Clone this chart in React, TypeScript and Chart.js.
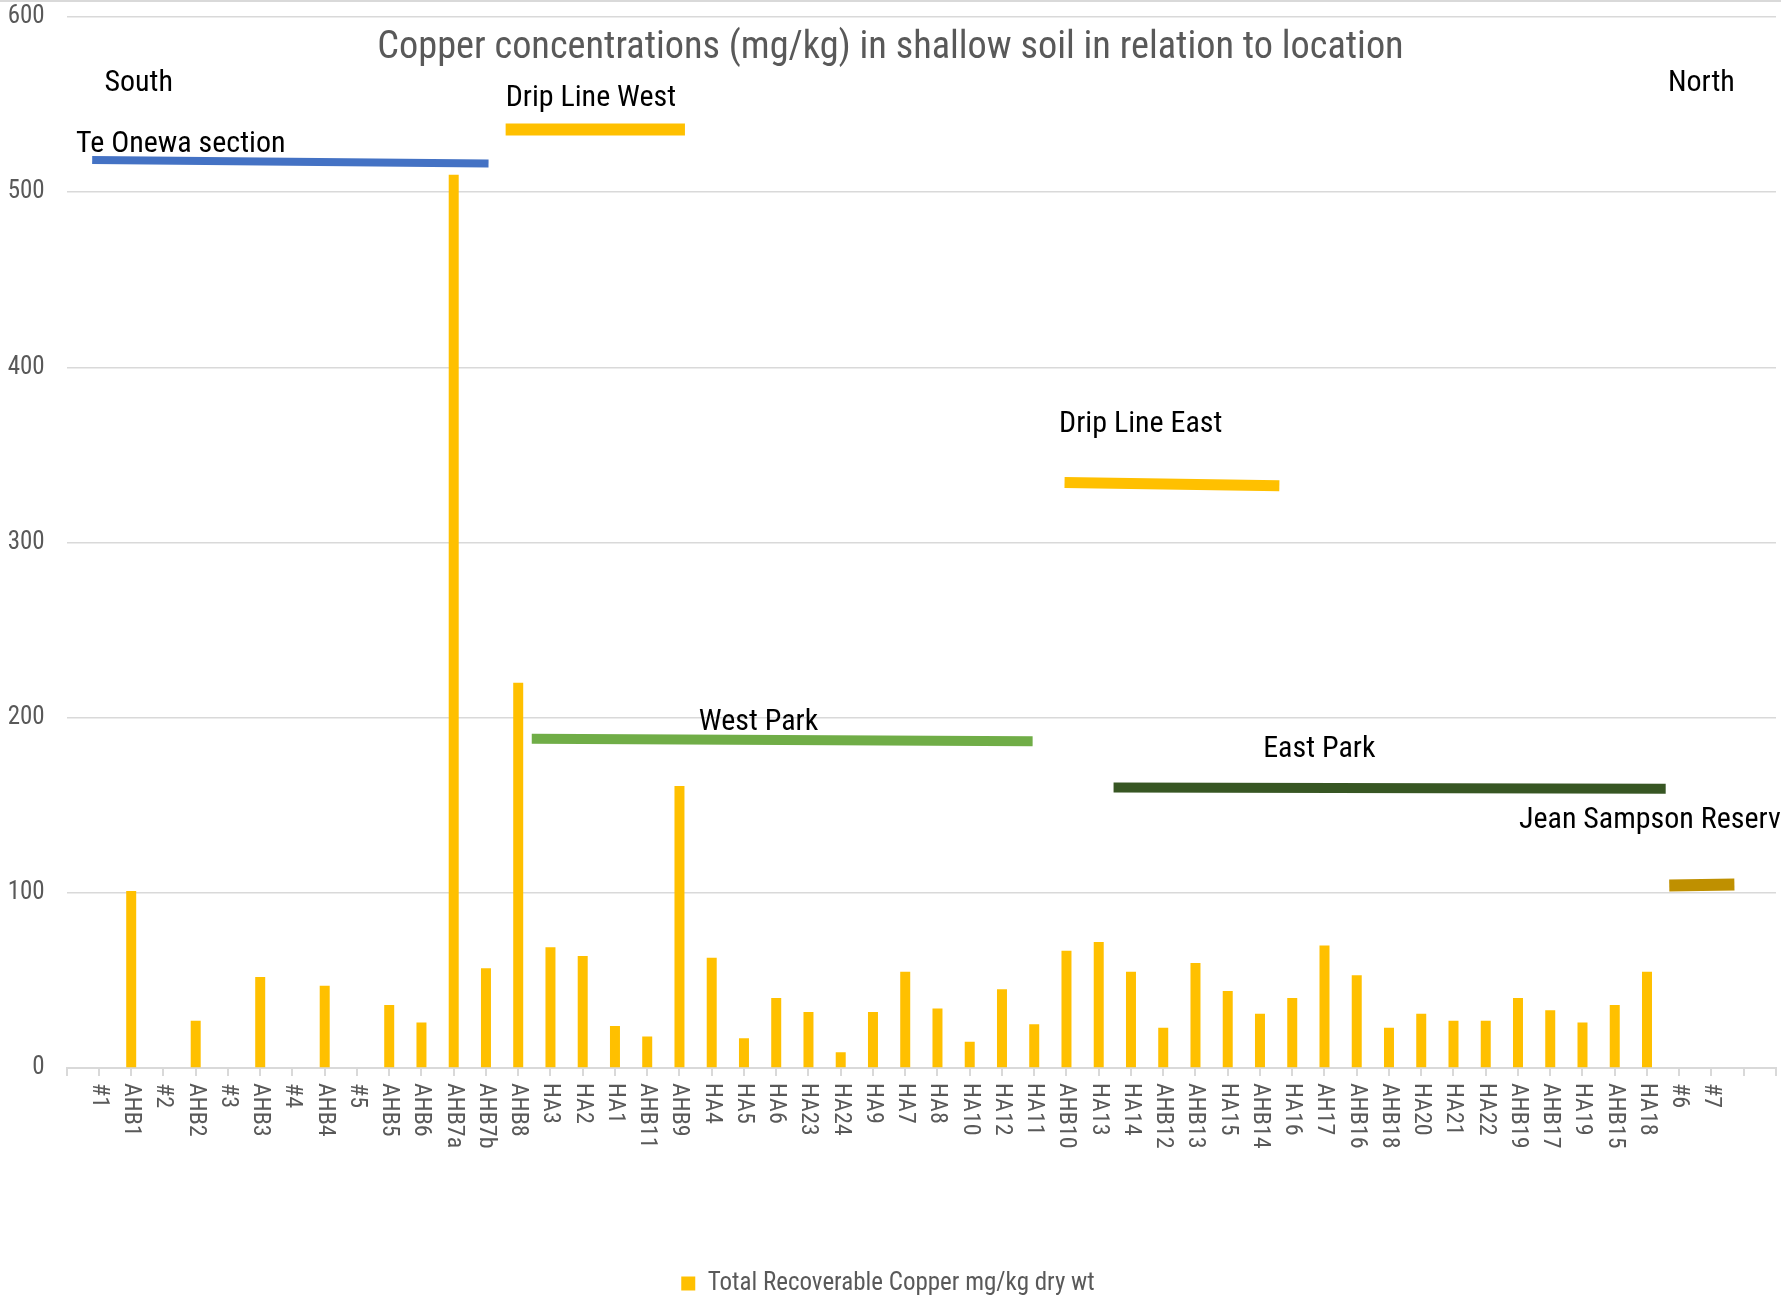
import React, { useEffect, useRef } from 'react';
import { Chart, registerables } from 'chart.js';

Chart.register(...registerables);

const FONT = "'Roboto Condensed', 'DejaVu Sans Condensed', 'Roboto', sans-serif";

const chartTitle = 'Copper concentrations (mg/kg) in shallow soil in relation to location';
const seriesName = 'Total Recoverable Copper mg/kg dry wt';

const categories = ['', '#1', 'AHB1', '#2', 'AHB2', '#3', 'AHB3', '#4', 'AHB4', '#5', 'AHB5', 'AHB6', 'AHB7a', 'AHB7b', 'AHB8', 'HA3', 'HA2', 'HA1', 'AHB11', 'AHB9', 'HA4', 'HA5', 'HA6', 'HA23', 'HA24', 'HA9', 'HA7', 'HA8', 'HA10', 'HA12', 'HA11', 'AHB10', 'HA13', 'HA14', 'AHB12', 'AHB13', 'HA15', 'AHB14', 'HA16', 'AH17', 'AHB16', 'AHB18', 'HA20', 'HA21', 'HA22', 'AHB19', 'AHB17', 'HA19', 'AHB15', 'HA18', '#6', '#7', '', ''];

const copper = [null, null, 101, null, 27, null, 52, null, 47, null, 36, 26, 510, 57, 220, 69, 64, 24, 18, 161, 63, 17, 40, 32, 9, 32, 55, 34, 15, 45, 25, 67, 72, 55, 23, 60, 44, 31, 40, 70, 53, 23, 31, 27, 27, 40, 33, 26, 36, 55, null, null, null, null];

const yTicks = [0, 100, 200, 300, 400, 500, 600];

// zone marker lines: start/end in (category index, mg/kg)
const zoneNames = ['Te Onewa section', 'Drip Line West', 'Drip Line East', 'West Park', 'East Park', 'Jean Sampson Reserve'];
const zoneStart = [[0.79, 518.3], [13.61, 535.8], [30.94, 334.3], [14.42, 187.9], [32.46, 160.1], [49.69, 104.2]];
const zoneEnd = [[13.08, 516.4], [19.17, 535.8], [37.6, 332.4], [29.95, 186.6], [49.58, 159.4], [51.71, 104.8]];
const zoneLabelAt = [[0.29, 527.3], [13.61, 553.3], [30.77, 367.3], [19.6, 197], [37.1, 182.1], [45.03, 141.2]];
const zoneColors = ['#4472c4', '#ffc000', '#ffc000', '#70ad47', '#375623', '#bf9000'];
const zoneWidths = [8, 12, 11, 10, 10, 12];

const directionNames = ['South', 'North'];
const directionAt = [[1.17, 562.3], [49.65, 562.3]];

const overlayPlugin = {
  id: 'overlay',
  beforeDraw(chart: any) {
    const { ctx } = chart;
    ctx.save();
    ctx.fillStyle = '#d9d9d9';
    ctx.fillRect(0, 0, chart.width, 2);
    ctx.restore();
  },
  afterDraw(chart: any) {
    const { ctx, scales } = chart;
    const xs = scales.x;
    const ys = scales.y;
    ctx.save();
    // category labels, rotated clockwise
    ctx.fillStyle = '#595959';
    ctx.font = `24px ${FONT}`;
    ctx.textAlign = 'left';
    ctx.textBaseline = 'middle';
    categories.forEach((lab, i) => {
      if (!lab) return;
      const px = xs.getPixelForValue(i);
      ctx.save();
      ctx.translate(px, xs.top + 15);
      ctx.rotate(Math.PI / 2);
      ctx.fillText(lab, 0, 0);
      ctx.restore();
    });
    // title
    ctx.font = `38.3px ${FONT}`;
    ctx.textAlign = 'center';
    ctx.fillStyle = '#595959';
    ctx.fillText(chartTitle, chart.width / 2, 48);
    // annotations
    ctx.font = `30px ${FONT}`;
    ctx.textAlign = 'left';
    ctx.fillStyle = '#000000';
    zoneNames.forEach((t, i) => {
      ctx.fillText(t, xs.getPixelForValue(zoneLabelAt[i][0]), ys.getPixelForValue(zoneLabelAt[i][1]));
    });
    directionNames.forEach((t, i) => {
      ctx.fillText(t, xs.getPixelForValue(directionAt[i][0]), ys.getPixelForValue(directionAt[i][1]));
    });
    ctx.restore();
  },
};

export default function App() {
  const ref = useRef<HTMLCanvasElement>(null);
  useEffect(() => {
    if (!ref.current) return;
    Chart.defaults.font.family = FONT;
    const lineSets = zoneNames.map((name, i) => ({
      type: 'line' as const,
      label: name,
      xAxisID: 'xl',
      yAxisID: 'y',
      data: [
        { x: zoneStart[i][0], y: zoneStart[i][1] },
        { x: zoneEnd[i][0], y: zoneEnd[i][1] },
      ],
      borderColor: zoneColors[i],
      backgroundColor: zoneColors[i],
      borderWidth: zoneWidths[i],
      borderCapStyle: 'butt' as const,
      pointRadius: 0,
      fill: false,
      tension: 0,
    }));
    const chart = new Chart(ref.current, {
      type: 'bar',
      data: {
        labels: categories,
        datasets: [
          {
            type: 'bar',
            label: seriesName,
            data: copper as any,
            backgroundColor: '#ffc000',
            borderWidth: 0,
            grouped: false,
            barPercentage: 0.31,
            categoryPercentage: 1,
            xAxisID: 'x',
            yAxisID: 'y',
          } as any,
          ...lineSets,
        ],
      },
      options: {
        responsive: false,
        animation: false,
        events: [],
        layout: { padding: { left: 0, right: 5, top: 16, bottom: -7 } },
        plugins: {
          title: { display: false },
          tooltip: { enabled: false },
          legend: {
            display: true,
            position: 'bottom',
            labels: {
              filter: (item: any) => item.datasetIndex === 0,
              boxWidth: 14,
              boxHeight: 14,
              padding: 10,
              color: '#595959',
              font: { size: 25, family: FONT },
            },
          },
        },
        scales: {
          x: {
            type: 'category',
            offset: false,
            grid: {
              offset: false,
              drawOnChartArea: false,
              drawTicks: true,
              tickLength: 8,
              color: '#d9d9d9',
              lineWidth: 2,
            },
            border: { display: true, color: '#d9d9d9', width: 2 },
            ticks: { display: false, autoSkip: false },
            afterFit: (s: any) => {
              s.height = 193;
            },
          },
          xl: {
            type: 'linear',
            display: true,
            offset: false,
            min: 0,
            max: categories.length - 1,
            position: 'bottom',
            grid: { display: false, drawTicks: false, offset: false },
            border: { display: false },
            ticks: { display: false },
            afterFit: (s: any) => {
              s.height = 0;
            },
          },
          y: {
            type: 'linear',
            min: 0,
            max: 600,
            afterBuildTicks: (s: any) => {
              s.ticks = yTicks.map((v) => ({ value: v }));
            },
            grid: {
              color: '#d9d9d9',
              lineWidth: 1.5,
              drawTicks: true,
              tickLength: 20,
              tickColor: 'rgba(0,0,0,0)',
            },
            border: { display: false },
            ticks: {
              padding: 2,
              color: '#595959',
              font: { size: 25, family: FONT },
            },
            afterFit: (s: any) => {
              s.width = 66.7;
            },
          },
        },
      },
      plugins: [overlayPlugin],
    });
    return () => chart.destroy();
  }, []);
  return (
    <div style={{ position: 'absolute', left: 0, top: 0, width: 1781, height: 1299, background: '#fff' }}>
      <canvas ref={ref} width={1781} height={1299} style={{ display: 'block' }} />
    </div>
  );
}
